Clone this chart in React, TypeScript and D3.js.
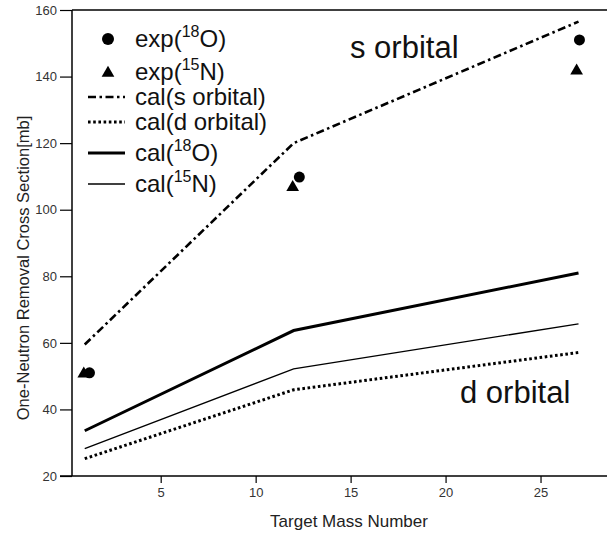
import React, { useEffect, useRef } from "react";
import * as d3 from "d3";

// target mass numbers for the calculations
const targets = [1, 12, 27];
const calS = [59.5, 120, 156.5];
const calD = [25.2, 45.9, 57.1];
const cal18O = [33.6, 63.7, 81];
const cal15N = [28.2, 52.2, 65.7];

// experimental points (slightly offset in x as in the plot)
const exp18OX = [1.25, 12.3, 27.05];
const exp18O = [51, 109.8, 151];
const exp15NX = [0.95, 11.95, 26.9];
const exp15N = [51, 107, 142];

const xTicks = [5, 10, 15, 20, 25];
const yTicks = [20, 40, 60, 80, 100, 120, 140, 160];

const FONT = "'Liberation Sans', Arial, Helvetica, sans-serif";

const App = () => {
  const ref = useRef<SVGSVGElement | null>(null);

  useEffect(() => {
    if (!ref.current) return;
    const svg = d3.select(ref.current);
    svg.selectAll("*").remove();

    const x = d3.scaleLinear().domain([0.33, 28.5]).range([72, 607]);
    const y = d3.scaleLinear().domain([20, 160]).range([476, 10]);

    const g = svg.append("g").attr("font-family", FONT);

    // axes
    g.append("g")
      .attr("transform", `translate(0,${y(20)})`)
      .call(d3.axisBottom(x).tickValues(xTicks).tickSize(7).tickPadding(5))
      .call((a) => {
        a.select(".domain").attr("d", `M${x.range()[0] - 12},0H607`).attr("stroke-width", 1.5);
        a.selectAll(".tick line").attr("stroke-width", 1.2);
        a.selectAll("text").attr("font-size", 13).attr("font-family", FONT).attr("fill", "#333");
      });

    g.append("g")
      .attr("transform", `translate(${x.range()[0]},0)`)
      .call(d3.axisLeft(y).tickValues(yTicks).tickSize(12).tickPadding(3))
      .call((a) => {
        a.select(".domain").attr("d", `M0,${y(20)}V${y(160)}`).attr("stroke-width", 1.5);
        a.selectAll(".tick line").attr("stroke-width", 1.2);
        a.selectAll("text").attr("font-size", 13).attr("font-family", FONT).attr("fill", "#333");
      });

    // top frame line
    g.append("line")
      .attr("x1", x.range()[0])
      .attr("x2", 607)
      .attr("y1", y(160))
      .attr("y2", y(160))
      .attr("stroke", "#000")
      .attr("stroke-width", 1.5);

    // axis titles
    g.append("text")
      .attr("x", 349)
      .attr("y", 527)
      .attr("text-anchor", "middle")
      .attr("font-size", 17)
      .attr("fill", "#222")
      .text("Target Mass Number");

    g.append("text")
      .attr("transform", `translate(29,${268}) rotate(-90)`)
      .attr("text-anchor", "middle")
      .attr("font-size", 16.5)
      .attr("fill", "#222")
      .text("One-Neutron Removal Cross Section[mb]");

    const lineStyles = [
      { vals: calS, width: 2.6, dash: "8,3.5,2.5,3.5" },
      { vals: calD, width: 3, dash: "2.6,2.6" },
      { vals: cal18O, width: 3, dash: null },
      { vals: cal15N, width: 1.3, dash: null },
    ];

    const line = d3
      .line<number>()
      .x((_, i) => x(targets[i]))
      .y((d) => y(d));

    lineStyles.forEach((s) => {
      g.append("path")
        .datum(s.vals)
        .attr("d", line)
        .attr("fill", "none")
        .attr("stroke", "#000")
        .attr("stroke-width", s.width)
        .attr("stroke-dasharray", s.dash);
    });

    const tri = d3.symbol().type(d3.symbolTriangle).size(70);

    g.selectAll(".tri")
      .data(exp15N)
      .enter()
      .append("path")
      .attr("class", "tri")
      .attr("d", tri)
      .attr("transform", (d, i) => `translate(${x(exp15NX[i])},${y(d) + 1})`)
      .attr("fill", "#000");

    g.selectAll(".dot")
      .data(exp18O)
      .enter()
      .append("circle")
      .attr("class", "dot")
      .attr("cx", (d, i) => x(exp18OX[i]))
      .attr("cy", (d) => y(d))
      .attr("r", 5.5)
      .attr("fill", "#000");

    // orbital labels
    g.append("text").attr("x", 350).attr("y", 58).attr("font-size", 31).attr("fill", "#111").text("s orbital");
    g.append("text").attr("x", 460).attr("y", 403).attr("font-size", 31).attr("fill", "#111").text("d orbital");

    // legend
    const lg = g.append("g");
    const rows = [
      { cy: 39, kind: "dot", pre: "exp(", sup: "18", post: "O)" },
      { cy: 72, kind: "tri", pre: "exp(", sup: "15", post: "N)" },
      { cy: 97, kind: "line", idx: 0, pre: "cal(s orbital)" },
      { cy: 122, kind: "line", idx: 1, pre: "cal(d orbital)" },
      { cy: 153, kind: "line", idx: 2, pre: "cal(", sup: "18", post: "O)" },
      { cy: 184, kind: "line", idx: 3, pre: "cal(", sup: "15", post: "N)" },
    ];
    rows.forEach((r) => {
      if (r.kind === "dot") {
        lg.append("circle").attr("cx", 108).attr("cy", r.cy).attr("r", 6).attr("fill", "#000");
      } else if (r.kind === "tri") {
        lg.append("path").attr("d", tri).attr("transform", `translate(108,${r.cy + 1})`).attr("fill", "#000");
      } else {
        const s = lineStyles[r.idx!];
        lg.append("line")
          .attr("x1", 88)
          .attr("x2", 125)
          .attr("y1", r.cy)
          .attr("y2", r.cy)
          .attr("stroke", "#000")
          .attr("stroke-width", s.width)
          .attr("stroke-dasharray", s.dash);
      }
      const t = lg
        .append("text")
        .attr("x", 135)
        .attr("y", r.cy + 8)
        .attr("font-size", 24)
        .attr("fill", "#111");
      t.append("tspan").text(r.pre);
      if (r.sup) {
        t.append("tspan").attr("font-size", 16).attr("dy", -10).text(r.sup);
        t.append("tspan").attr("dy", 10).text(r.post!);
      }
    });
  }, []);

  return (
    <svg
      ref={ref}
      width={607}
      height={535}
      style={{ position: "absolute", left: 0, top: 0, background: "#fff" }}
    />
  );
};

export default App;
